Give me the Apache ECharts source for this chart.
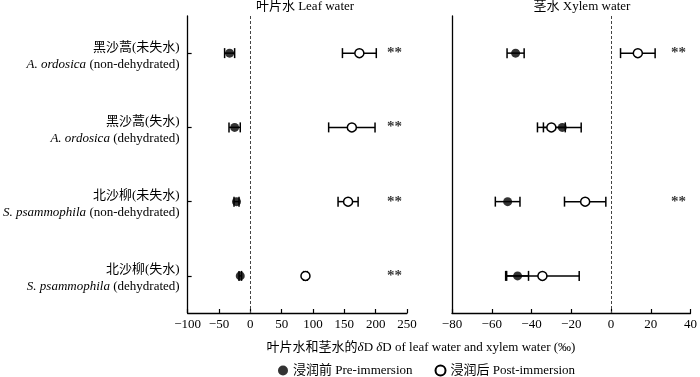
<!DOCTYPE html>
<html>
<head>
<meta charset="utf-8">
<script src="https://cdn.jsdelivr.net/npm/echarts@6/dist/echarts.min.js"></script>
<style>
  html, body { margin: 0; padding: 0; background: #fff; }
  #chart { width: 700px; height: 377px; }
</style>
</head>
<body>
<div id="chart"></div>
<script>
// categories, top to bottom
const cnNames = ['黑沙蒿(未失水)', '黑沙蒿(失水)', '北沙柳(未失水)', '北沙柳(失水)'];
const latinNames = ['A. ordosica', 'A. ordosica', 'S. psammophila', 'S. psammophila'];
const states = ['(non-dehydrated)', '(dehydrated)', '(non-dehydrated)', '(dehydrated)'];

// leaf water δD (‰): mean and error
const leafPre = [-33, -25, -22, -16];
const leafPreErr = [8, 9, 4, 2];
const leafPost = [174, 162, 156, 88];
const leafPostErr = [27, 37, 16, 3];
const leafSig = ['**', '**', '**', '**'];

// xylem water δD (‰)
const xylemPre = [-48, -24.5, -52, -47];
const xylemPreErr = [4.3, 9.5, 6.2, 5.5];
const xylemPost = [13.5, -30, -13, -34.5];
const xylemPostErr = [8.7, 7, 10.4, 18.5];
const xylemSig = ['**', '', '**', ''];

const leafTicks = { min: -100, max: 250, interval: 50 };
const xylemTicks = { min: -80, max: 40, interval: 20 };

const FONT = '"Liberation Serif", "Noto Sans CJK SC", serif';

const chart = echarts.init(document.getElementById('chart'));

function errData(vals, errs) {
    return vals.map((v, i) => [v, i, errs[i]]);
}
function ptData(vals) {
    return vals.map((v, i) => [v, i]);
}
function sigData(sig, x) {
    return sig.map((s, i) => ({ value: [x, i], label: { formatter: s } })).filter((d, i) => sig[i]);
}

const renderErr = (params, api) => {
    const v = api.value(0), c = api.value(1), e = api.value(2);
    const a = api.coord([v - e, c]);
    const b = api.coord([v + e, c]);
    const h = 5;
    const st = { stroke: '#000', lineWidth: 1.5 };
    return {
        type: 'group',
        children: [
            { type: 'line', shape: { x1: a[0], y1: a[1], x2: b[0], y2: b[1] }, style: st },
            { type: 'line', shape: { x1: a[0], y1: a[1] - h, x2: a[0], y2: a[1] + h }, style: st },
            { type: 'line', shape: { x1: b[0], y1: b[1] - h, x2: b[0], y2: b[1] + h }, style: st }
        ]
    };
};

function errSeries(idx, vals, errs) {
    return {
        type: 'custom', xAxisIndex: idx, yAxisIndex: idx,
        renderItem: renderErr, data: errData(vals, errs),
        encode: { x: 0, y: 1 }, z: 2, silent: true
    };
}

const zeroLine = {
    silent: true, symbol: 'none', label: { show: false },
    lineStyle: { color: '#444', type: [3, 2], width: 1 },
    data: [{ xAxis: 0 }]
};

function preSeries(idx, vals, withLine) {
    return {
        name: '浸润前 Pre-immersion', type: 'scatter', xAxisIndex: idx, yAxisIndex: idx,
        data: ptData(vals), symbol: 'circle', symbolSize: 9, z: 4,
        itemStyle: { color: '#000' },
        markLine: withLine ? zeroLine : undefined
    };
}
function postSeries(idx, vals) {
    return {
        name: '浸润后 Post-immersion', type: 'scatter', xAxisIndex: idx, yAxisIndex: idx,
        data: ptData(vals), symbol: 'circle', symbolSize: 9, z: 3,
        itemStyle: { color: '#fff', borderColor: '#000', borderWidth: 1.5, opacity: 1 }
    };
}
function starSeries(idx, sig, x) {
    return {
        type: 'scatter', xAxisIndex: idx, yAxisIndex: idx, symbolSize: 0,
        data: sigData(sig, x), silent: true,
        label: { show: true, position: 'inside', color: '#000', fontFamily: FONT, fontSize: 15, fontWeight: 'bold' }
    };
}

const xAxisBase = (t, gi) => ({
    type: 'value', gridIndex: gi, min: t.min, max: t.max, interval: t.interval,
    splitLine: { show: false },
    axisLine: { show: true, onZero: false, lineStyle: { color: '#000', width: 1.3 } },
    axisTick: { show: true, inside: true, length: 4, lineStyle: { color: '#000', width: 1.2 } },
    axisLabel: {
        color: '#000', fontFamily: FONT, fontSize: 13, margin: 5,
        formatter: v => String(v).replace('-', '−')
    }
});

const yLabels = cnNames.map((c, i) => '{cn|' + c + '}\n{it|' + latinNames[i] + '} {n|' + states[i] + '}');

const option = {
    animation: false,
    backgroundColor: '#fff',
    grid: [
        { left: 183, top: 16, width: 224, height: 297 },
        { left: 452, top: 16, width: 240, height: 297 }
    ],
    xAxis: [xAxisBase(leafTicks, 0), xAxisBase(xylemTicks, 1)],
    yAxis: [
        {
            type: 'category', gridIndex: 0, inverse: true, data: yLabels,
            axisLine: { show: true, onZero: false, lineStyle: { color: '#000', width: 1.3 } },
            axisTick: { show: true, inside: true, length: 4, alignWithLabel: true, lineStyle: { color: '#000', width: 1.2 } },
            axisLabel: {
                margin: 8, align: 'right', color: '#000', padding: [5, 0, 0, 0],
                rich: {
                    cn: { fontFamily: FONT, fontSize: 13, lineHeight: 17, align: 'right', color: '#000' },
                    it: { fontFamily: FONT, fontSize: 13, lineHeight: 17, fontStyle: 'italic', color: '#000' },
                    n: { fontFamily: FONT, fontSize: 13, lineHeight: 17, color: '#000' }
                }
            }
        },
        {
            type: 'category', gridIndex: 1, inverse: true, data: yLabels,
            axisLine: { show: true, onZero: false, lineStyle: { color: '#000', width: 1.3 } },
            axisTick: { show: false },
            axisLabel: { show: false }
        }
    ],
    legend: {
        left: 278, top: 364, padding: 0, itemWidth: 10, itemHeight: 10, itemGap: 22,
        icon: 'circle',
        textStyle: { fontFamily: FONT, fontSize: 13, color: '#000' },
        data: ['浸润前 Pre-immersion', '浸润后 Post-immersion']
    },
    graphic: [
        { type: 'text', x: 305, y: 7, style: { text: '叶片水 Leaf water', font: '13px ' + FONT, fill: '#000', align: 'center', verticalAlign: 'middle' } },
        { type: 'text', x: 582, y: 7, style: { text: '茎水 Xylem water', font: '13px ' + FONT, fill: '#000', align: 'center', verticalAlign: 'middle' } },
        {
            type: 'text', x: 421, y: 348,
            style: {
                text: '叶片水和茎水的{i|δ}D {i|δ}D of leaf water and xylem water (‰)',
                font: '13px ' + FONT, fill: '#000', align: 'center', verticalAlign: 'middle',
                rich: { i: { fontStyle: 'italic', fontFamily: FONT, fontSize: 13 } }
            }
        }
    ],
    series: [
        errSeries(0, leafPost, leafPostErr),
        errSeries(0, leafPre, leafPreErr),
        postSeries(0, leafPost),
        preSeries(0, leafPre, true),
        starSeries(0, leafSig, 230),
        errSeries(1, xylemPost, xylemPostErr),
        errSeries(1, xylemPre, xylemPreErr),
        postSeries(1, xylemPost),
        preSeries(1, xylemPre, true),
        starSeries(1, xylemSig, 34)
    ]
};

chart.setOption(option);
</script>
</body>
</html>
